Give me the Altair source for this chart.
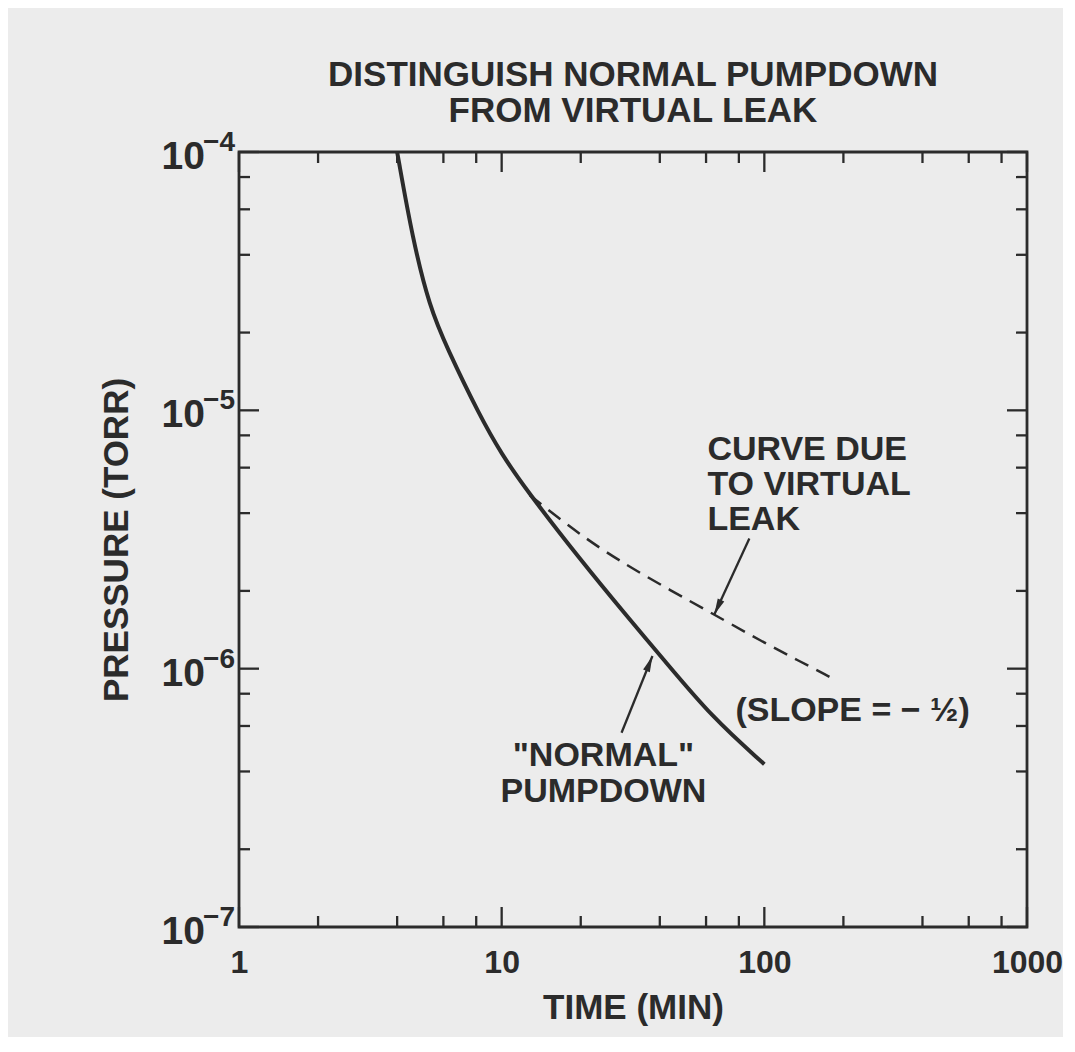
import math
import altair as alt
import pandas as pd

# ---------------- data ----------------
normal_t = [4.0, 4.59, 5.32, 6.18, 8.24, 10.0, 12.45, 19.8, 30.7, 40.9, 63.4, 100]
normal_p = [1.0e-4, 4.56e-5, 2.51e-5, 1.75e-5, 9.55e-6, 6.76e-6, 4.9e-6,
            2.66e-6, 1.55e-6, 1.10e-6, 6.46e-7, 4.27e-7]

leak_t = [12.8, 19.8, 30.7, 64.5, 98.4, 136, 177]
leak_p = [4.69e-6, 3.3e-6, 2.46e-6, 1.62e-6, 1.27e-6, 1.07e-6, 9.3e-7]

x_major = [1, 10, 100, 1000]
x_minor = [2, 4, 6, 8, 20, 40, 60, 80, 200, 400, 600, 800]
y_major = [1e-7, 1e-6, 1e-5, 1e-4]
y_minor = [2e-7, 4e-7, 6e-7, 8e-7, 2e-6, 4e-6, 6e-6, 8e-6,
           2e-5, 4e-5, 6e-5, 8e-5]

title_lines = ["DISTINGUISH NORMAL PUMPDOWN", "FROM VIRTUAL LEAK"]
x_title = "TIME (MIN)"
y_title = "PRESSURE (TORR)"

left_text = ["CURVE DUE\nTO VIRTUAL\nLEAK", "(SLOPE = \u2212 \u00bd)"]
left_t = [60.7, 77.6]
left_p = [8.2e-6, 8.0e-7]

center_text = ['"NORMAL"\nPUMPDOWN']
center_t = [24.4]
center_p = [5.35e-7]

arrow_tail_t = [87.7, 28.6]
arrow_tail_p = [3.19e-6, 5.65e-7]
arrow_tip_t = [64.5, 37.5]
arrow_tip_p = [1.62e-6, 1.12e-6]

# ---------------- styling ----------------
W, H = 788, 775
INK = "#2b2b2b"
BG = "#ececec"
FONT = "Liberation Sans"
MAJOR_LEN, MINOR_LEN = 20, 11

xscale = alt.Scale(type="log", domain=[1, 1000], nice=False)
yscale = alt.Scale(type="log", domain=[1e-7, 1e-4], nice=False)

X_AX = alt.Axis(
    values=x_major, format="d", title=x_title, grid=False, ticks=False,
    domain=False, labelFont=FONT, labelFontSize=32, labelFontWeight="bold",
    labelColor=INK, labelPadding=20, labelFlush=False, labelOverlap=False,
    titleFont=FONT, titleFontSize=35, titleFontWeight="bold",
    titleColor=INK, titlePadding=12)
Y_AX = alt.Axis(
    labels=False, ticks=False, domain=False, grid=False, title=y_title,
    titleFont=FONT, titleFontSize=35, titleFontWeight="bold",
    titleColor=INK, titlePadding=105)


def X(field):
    return alt.X(field, type="quantitative", scale=xscale, axis=X_AX)


def Y(field):
    return alt.Y(field, type="quantitative", scale=yscale, axis=Y_AX)


df_normal = pd.DataFrame({"t": normal_t, "p": normal_p})
df_leak = pd.DataFrame({"t": leak_t, "p": leak_p})

normal = alt.Chart(df_normal).mark_line(
    color=INK, strokeWidth=4, interpolate="basis"
).encode(x=X("t"), y=Y("p"))

leak = alt.Chart(df_leak).mark_line(
    color=INK, strokeWidth=2.5, strokeDash=[15, 9], interpolate="basis"
).encode(x=X("t"), y=Y("p"))


def xticks(values, length):
    d = pd.DataFrame({"v": values})
    base = alt.Chart(d).mark_rule(color=INK, strokeWidth=2.3)
    bottom = base.encode(x=X("v"), y=alt.value(H), y2=alt.value(H - length))
    top = base.encode(x=X("v"), y=alt.value(0), y2=alt.value(length))
    return [bottom, top]


def yticks(values, length):
    d = pd.DataFrame({"v": values})
    base = alt.Chart(d).mark_rule(color=INK, strokeWidth=2.3)
    left = base.encode(y=Y("v"), x=alt.value(0), x2=alt.value(length))
    right = base.encode(y=Y("v"), x=alt.value(W), x2=alt.value(W - length))
    return [left, right]


tick_layers = (xticks(x_major, MAJOR_LEN) + xticks(x_minor, MINOR_LEN)
               + yticks(y_major, MAJOR_LEN) + yticks(y_minor, MINOR_LEN))

# y labels: 10 with superscript exponent
df_ylab = pd.DataFrame({
    "v": y_major,
    "base": ["10"] * len(y_major),
    "exp": ["\u2212" + str(abs(int(round(math.log10(v))))) for v in y_major],
})
ylab_base = alt.Chart(df_ylab).mark_text(
    align="right", baseline="middle", font=FONT, fontSize=39,
    fontWeight="bold", color=INK, dy=5
).encode(y=Y("v"), x=alt.value(-34), text="base:N")
ylab_exp = alt.Chart(df_ylab).mark_text(
    align="right", baseline="middle", font=FONT, fontSize=28,
    fontWeight="bold", color=INK, dy=-9
).encode(y=Y("v"), x=alt.value(-4), text="exp:N")

# annotations
df_left = pd.DataFrame({"t": left_t, "p": left_p, "txt": left_text})
df_center = pd.DataFrame({"t": center_t, "p": center_p, "txt": center_text})
ann_left = alt.Chart(df_left).mark_text(
    align="left", baseline="top", font=FONT, fontSize=34, lineHeight=35,
    lineBreak="\n", fontWeight="bold", color=INK
).encode(x=X("t"), y=Y("p"), text="txt:N")
ann_center = alt.Chart(df_center).mark_text(
    align="center", baseline="top", font=FONT, fontSize=34, lineHeight=36,
    lineBreak="\n", fontWeight="bold", color=INK
).encode(x=X("t"), y=Y("p"), text="txt:N")

# arrows
angles = []
for t1, p1, t2, p2 in zip(arrow_tail_t, arrow_tail_p, arrow_tip_t, arrow_tip_p):
    dx = (math.log10(t2) - math.log10(t1)) * W / 3
    dy = -(math.log10(p2) - math.log10(p1)) * H / 3
    angles.append((math.degrees(math.atan2(dx, -dy)) + 360) % 360)

df_arrow = pd.DataFrame({"t1": arrow_tail_t, "p1": arrow_tail_p,
                         "t2": arrow_tip_t, "p2": arrow_tip_p, "ang": angles})
arrow_line = alt.Chart(df_arrow).mark_rule(color=INK, strokeWidth=2.3).encode(
    x=X("t1"), y=Y("p1"), x2="t2:Q", y2="p2:Q")
arrow_head = alt.Chart(df_arrow).mark_point(
    shape="M0,0L0.45,2L-0.45,2Z", filled=True, size=256, color=INK,
    opacity=1, strokeWidth=0
).encode(x=X("t2"), y=Y("p2"), angle=alt.Angle("ang:Q", scale=None))

chart = alt.layer(
    normal, leak, *tick_layers, ylab_base, ylab_exp, ann_left, ann_center,
    arrow_line, arrow_head
).properties(
    width=W, height=H,
    title=alt.TitleParams(title_lines, font=FONT, fontSize=35,
                          fontWeight="bold", color=INK, lineHeight=36,
                          anchor="middle", offset=0),
    autosize=alt.AutoSizeParams(type="none"),
    padding={"left": 231, "top": 144, "right": 36, "bottom": 110},
    background=BG,
).configure_view(stroke=INK, strokeWidth=2.8)

chart.save("out.html", embed_options={"renderer": "svg", "actions": False})
